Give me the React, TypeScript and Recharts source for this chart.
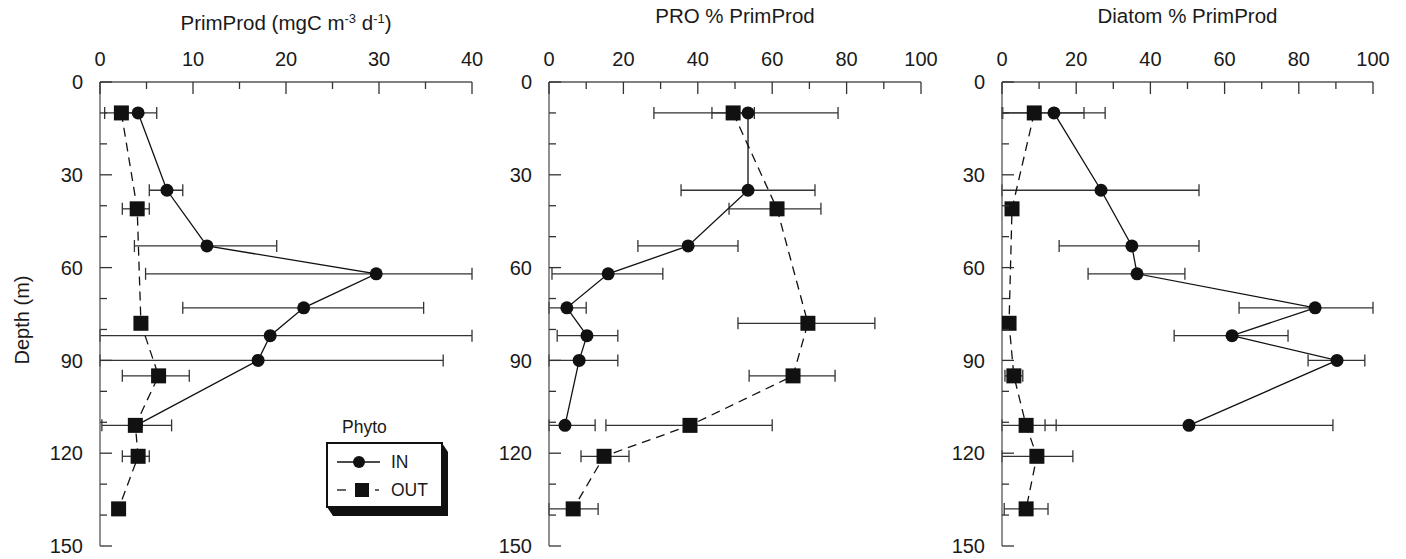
import React from 'react';
import { ScatterChart, Scatter, XAxis, YAxis, ErrorBar, Legend } from 'recharts';

// depths (m)
const IN_DEPTH = [10, 35, 53, 62, 73, 82, 90, 111];
const OUT_DEPTH = [10, 41, 78, 95, 111, 121, 138];

// PrimProd (mgC m-3 d-1)
const PP_IN = [4.1, 7.2, 11.5, 29.7, 21.9, 18.3, 17.0, 3.9];
const PP_IN_LO = [2.1, 5.3, 3.7, 4.9, 8.9, -10, -3, 3.9];
const PP_IN_HI = [6.1, 8.9, 19.0, 54, 34.8, 46, 36.9, 3.9];
const PP_OUT = [2.3, 4.0, 4.4, 6.3, 3.8, 4.1, 2.0];
const PP_OUT_LO = [0.5, 2.4, 4.4, 2.4, 0.2, 2.4, 2.0];
const PP_OUT_HI = [4.1, 5.3, 4.4, 9.6, 7.7, 5.3, 2.0];

// PRO % PrimProd
const PRO_IN = [53.5, 53.5, 37.4, 15.9, 4.8, 10.2, 8.1, 4.3];
const PRO_IN_LO = [28.2, 35.5, 23.9, 0.8, -0.4, 2.2, -2.3, -3.8];
const PRO_IN_HI = [77.7, 71.5, 50.8, 30.6, 10.0, 18.5, 18.5, 12.4];
const PRO_OUT = [49.5, 61.3, 69.6, 65.6, 37.9, 14.8, 6.5];
const PRO_OUT_LO = [43.8, 48.4, 50.8, 53.8, 15.3, 8.6, -0.2];
const PRO_OUT_HI = [55.2, 73.1, 87.6, 76.9, 60.0, 21.5, 13.2];

// Diatom % PrimProd
const DIA_IN = [14.0, 26.7, 35.0, 36.4, 84.4, 62.0, 90.3, 50.4];
const DIA_IN_LO = [0.2, -0.5, 15.4, 23.2, 63.9, 46.4, 82.5, 11.6];
const DIA_IN_HI = [27.8, 53.1, 53.1, 49.3, 105, 77.1, 97.8, 89.2];
const DIA_OUT = [8.7, 2.7, 1.9, 3.2, 6.5, 9.4, 6.5];
const DIA_OUT_LO = [-4.6, 2.7, 1.9, 0.8, -1.6, -0.3, 0.6];
const DIA_OUT_HI = [22.1, 2.7, 1.9, 5.6, 14.6, 19.1, 12.4];

const DEPTH_TICKS = [0, 10, 20, 30, 40, 50, 60, 70, 80, 90, 100, 110, 120, 130, 140, 150];
const PP_TICKS = [0, 5, 10, 15, 20, 25, 30, 35, 40];
const PCT_TICKS = [0, 10, 20, 30, 40, 50, 60, 70, 80, 90, 100];

const FONT = '"Liberation Sans", Arial, Helvetica, sans-serif';
const INK = '#1a1a1a';
const AXIS = '#555';
const TOP_GAP = 16;
const LEFT_GAP = 17;

// error bars that run off the frame are cut at the frame, like the original plot
function buildRows(depths: number[], vals: number[], lo: number[], hi: number[], dom: [number, number]) {
  return depths.map((d, i) => {
    const l = Math.max(lo[i], dom[0]);
    const h = Math.min(hi[i], dom[1]);
    return { depth: d, x: vals[i], err: h > l ? [vals[i] - l, h - vals[i]] : null };
  });
}

const tickLen = (major: boolean) => (major ? 12 : 7);

function TopTick(props: any) {
  const { x, y, payload, every } = props;
  const major = payload.value % every === 0;
  const ay = y + TOP_GAP;
  return (
    <g>
      <line x1={x} x2={x} y1={ay} y2={ay + tickLen(major)} stroke="#333" strokeWidth={1.3} />
      {major && (
        <text x={x} y={y} textAnchor="middle" fontSize={20} fill={INK} fontFamily={FONT}>
          {payload.value}
        </text>
      )}
    </g>
  );
}

function BottomTick(props: any) {
  const { x, y, payload, every } = props;
  const major = payload.value % every === 0;
  return <line x1={x} x2={x} y1={y} y2={y - tickLen(major)} stroke="#333" strokeWidth={1.3} />;
}

function LeftTick(props: any) {
  const { x, y, payload } = props;
  const major = payload.value % 30 === 0;
  const ax = x + LEFT_GAP;
  return (
    <g>
      <line x1={ax} x2={ax + tickLen(major)} y1={y} y2={y} stroke="#333" strokeWidth={1.3} />
      {major && (
        <text x={x} y={y} dy="0.36em" textAnchor="end" fontSize={20} fill={INK} fontFamily={FONT}>
          {payload.value}
        </text>
      )}
    </g>
  );
}

function RightTick(props: any) {
  const { x, y, payload } = props;
  const major = payload.value % 30 === 0;
  return <line x1={x} x2={x - tickLen(major)} y1={y} y2={y} stroke="#333" strokeWidth={1.3} />;
}

const Dot = (p: any) => <circle cx={p.cx} cy={p.cy} r={6.5} fill="#111" />;
const Box = (p: any) => <rect x={p.cx - 7.5} y={p.cy - 7.5} width={15} height={15} fill="#111" />;

function PhytoLegend(props: any) {
  const items = props.payload || [];
  const x0 = 9, y0 = 31, x1 = 124, y1 = 95, dx = 6, dy = 9;
  return (
    <svg width={140} height={110} style={{ overflow: 'visible' }}>
      <text x={24} y={21} fontSize={17.5} fill={INK} fontFamily={FONT}>Phyto</text>
      <polygon
        points={`${x1},${y0} ${x1 + dx},${y0 + dy} ${x1 + dx},${y1 + dy} ${x0 + dx},${y1 + dy} ${x0},${y1}`}
        fill="#111"
      />
      <rect x={x0} y={y0} width={x1 - x0} height={y1 - y0} fill="#fff" stroke="#111" strokeWidth={2} />
      {items.map((it: any, i: number) => {
        const cy = 50 + i * 28;
        const out = it.value === 'OUT';
        return (
          <g key={it.value}>
            {out ? (
              <>
                <line x1={19} x2={28} y1={cy} y2={cy} stroke="#111" strokeWidth={1.3} />
                <line x1={57} x2={61} y1={cy} y2={cy} stroke="#111" strokeWidth={1.3} />
                <rect x={37} y={cy - 7} width={14} height={14} fill="#111" />
              </>
            ) : (
              <>
                <line x1={19} x2={62} y1={cy} y2={cy} stroke="#111" strokeWidth={1.3} />
                <circle cx={41} cy={cy} r={6} fill="#111" />
              </>
            )}
            <text x={73} y={cy} dy="0.36em" fontSize={17.5} fill={INK} fontFamily={FONT}>{it.value}</text>
          </g>
        );
      })}
    </svg>
  );
}

interface PanelProps {
  left: number;
  width: number;
  yWidth: number;
  marginRight: number;
  domain: [number, number];
  ticks: number[];
  every: number;
  title: React.ReactNode;
  titleY: number;
  inRows: any[];
  outRows: any[];
  depthLabel?: boolean;
  legend?: boolean;
}

function Panel(p: PanelProps) {
  const axisLine = { stroke: AXIS, strokeWidth: 1.3 };
  return (
    <div style={{ position: 'absolute', left: p.left, top: 0 }}>
      <ScatterChart width={p.width} height={559} margin={{ top: 0, right: p.marginRight, bottom: 13, left: 0 }}>
        <XAxis
          xAxisId="top"
          orientation="top"
          type="number"
          dataKey="x"
          domain={p.domain}
          ticks={p.ticks}
          interval={0}
          allowDataOverflow
          height={82}
          tickSize={0}
          tickMargin={TOP_GAP}
          axisLine={axisLine}
          tickLine={false}
          tick={(t: any) => <TopTick {...t} every={p.every} />}
          label={(l: any) => {
            const vb = l.viewBox || {};
            return (
              <text x={vb.x + vb.width / 2} y={p.titleY} textAnchor="middle" fontSize={20.5} fill={INK} fontFamily={FONT}>
                {p.title}
              </text>
            );
          }}
        />
        <XAxis
          xAxisId="bot"
          orientation="bottom"
          type="number"
          dataKey="x"
          domain={p.domain}
          ticks={p.ticks}
          interval={0}
          allowDataOverflow
          height={0}
          tickSize={0}
          tickMargin={0}
          axisLine={axisLine}
          tickLine={false}
          tick={(t: any) => <BottomTick {...t} every={p.every} />}
        />
        <YAxis
          yAxisId="left"
          orientation="left"
          type="number"
          dataKey="depth"
          domain={[0, 150]}
          reversed
          ticks={DEPTH_TICKS}
          interval={0}
          width={p.yWidth}
          tickSize={0}
          tickMargin={LEFT_GAP}
          axisLine={axisLine}
          tickLine={false}
          tick={<LeftTick />}
          label={
            p.depthLabel
              ? (l: any) => {
                  const vb = l.viewBox || {};
                  const cy = vb.y + vb.height / 2 + 6;
                  return (
                    <text
                      x={22}
                      y={cy}
                      transform={`rotate(-90 22 ${cy})`}
                      textAnchor="middle"
                      dy="0.36em"
                      fontSize={20}
                      fill={INK}
                      fontFamily={FONT}
                    >
                      Depth (m)
                    </text>
                  );
                }
              : undefined
          }
        />
        <YAxis
          yAxisId="right"
          orientation="right"
          type="number"
          dataKey="depth"
          domain={[0, 150]}
          reversed
          ticks={DEPTH_TICKS}
          interval={0}
          width={0}
          tickSize={0}
          tickMargin={0}
          axisLine={axisLine}
          tickLine={false}
          tick={<RightTick />}
        />
        <Scatter
          name="IN"
          xAxisId="top"
          yAxisId="left"
          data={p.inRows}
          fill="#111"
          line={{ stroke: '#111', strokeWidth: 1.3 }}
          lineType="joint"
          shape={Dot}
          isAnimationActive={false}
        >
          <ErrorBar dataKey="err" direction="x" width={6} stroke="#333" strokeWidth={1.3} isAnimationActive={false} />
        </Scatter>
        <Scatter
          name="OUT"
          xAxisId="top"
          yAxisId="left"
          data={p.outRows}
          fill="#111"
          line={{ stroke: '#111', strokeWidth: 1.3, strokeDasharray: '9 6' }}
          lineType="joint"
          shape={Box}
          isAnimationActive={false}
        >
          <ErrorBar dataKey="err" direction="x" width={6} stroke="#333" strokeWidth={1.3} isAnimationActive={false} />
        </Scatter>
        {p.legend && (
          <Legend
            layout="horizontal"
            verticalAlign="middle"
            align="center"
            content={<PhytoLegend />}
            wrapperStyle={{ left: 318, top: 412, width: 140, height: 110 }}
          />
        )}
      </ScatterChart>
    </div>
  );
}

const PP_DOM: [number, number] = [0, 40];
const PCT_DOM: [number, number] = [0, 100];

export default function App() {
  return (
    <div style={{ position: 'absolute', left: 0, top: 0, width: 1406, height: 559, background: '#fff' }}>
      <Panel
        left={0}
        width={500}
        yWidth={100}
        marginRight={28}
        domain={PP_DOM}
        ticks={PP_TICKS}
        every={10}
        titleY={30}
        title={
          <>
            PrimProd (mgC m
            <tspan dy={-7} fontSize={13}>-3</tspan>
            <tspan dy={7}> d</tspan>
            <tspan dy={-7} fontSize={13}>-1</tspan>
            <tspan dy={7}>)</tspan>
          </>
        }
        inRows={buildRows(IN_DEPTH, PP_IN, PP_IN_LO, PP_IN_HI, PP_DOM)}
        outRows={buildRows(OUT_DEPTH, PP_OUT, PP_OUT_LO, PP_OUT_HI, PP_DOM)}
        depthLabel
        legend
      />
      <Panel
        left={480}
        width={470}
        yWidth={69}
        marginRight={29}
        domain={PCT_DOM}
        ticks={PCT_TICKS}
        every={20}
        titleY={23}
        title="PRO % PrimProd"
        inRows={buildRows(IN_DEPTH, PRO_IN, PRO_IN_LO, PRO_IN_HI, PCT_DOM)}
        outRows={buildRows(OUT_DEPTH, PRO_OUT, PRO_OUT_LO, PRO_OUT_HI, PCT_DOM)}
      />
      <Panel
        left={930}
        width={476}
        yWidth={72}
        marginRight={33}
        domain={PCT_DOM}
        ticks={PCT_TICKS}
        every={20}
        titleY={23}
        title="Diatom % PrimProd"
        inRows={buildRows(IN_DEPTH, DIA_IN, DIA_IN_LO, DIA_IN_HI, PCT_DOM)}
        outRows={buildRows(OUT_DEPTH, DIA_OUT, DIA_OUT_LO, DIA_OUT_HI, PCT_DOM)}
      />
    </div>
  );
}
